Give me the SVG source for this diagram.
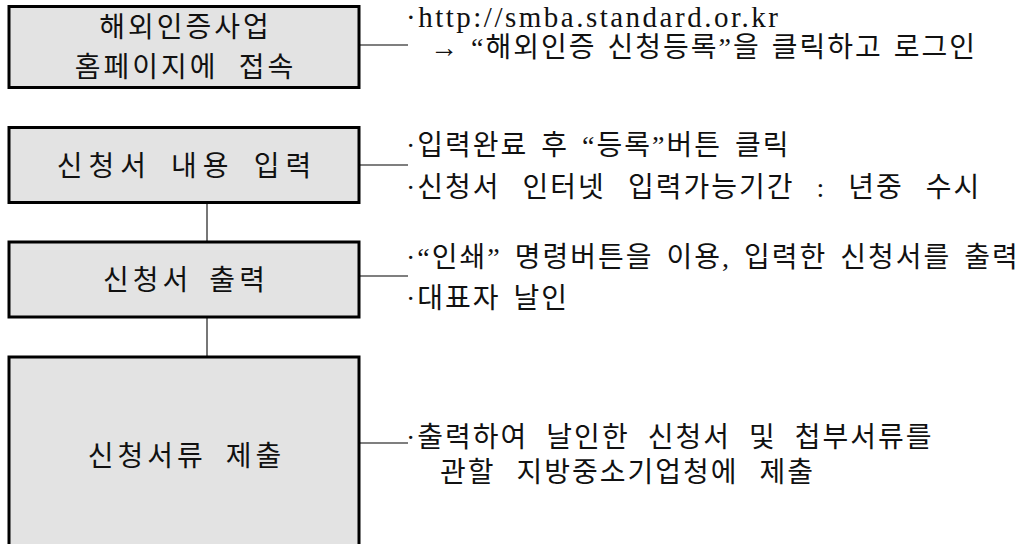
<svg xmlns="http://www.w3.org/2000/svg" width="1032" height="544" viewBox="0 0 1032 544">
<style>
.box{fill:#e3e3e3;stroke:#000;stroke-width:3}
.bt{font-family:"Liberation Serif","Noto Sans CJK KR",serif;font-size:28px;letter-spacing:3px;fill:#111;text-anchor:middle;word-spacing:8px}
.nt{font-family:"Liberation Serif","Noto Sans CJK KR",serif;font-size:28px;letter-spacing:2px;fill:#111;word-spacing:4px}
.lat{font-size:29px;letter-spacing:2.5px}
.c{stroke:#000;stroke-width:1.2;fill:none}
.v{stroke:#555;stroke-width:1.6;fill:none}
</style>
<rect width="1032" height="544" fill="#fff"/>
<g id="connectors">
<line class="c" x1="360" y1="45" x2="408" y2="45"/>
<line class="c" x1="360" y1="165" x2="408" y2="165"/>
<line class="c" x1="360" y1="276" x2="408" y2="276"/>
<line class="c" x1="360" y1="443" x2="408" y2="443"/>
<line class="v" x1="207" y1="203" x2="207" y2="241"/>
<line class="v" x1="207" y1="318" x2="207" y2="356"/>
</g>
<g id="node1">
<rect class="box" x="9" y="6.5" width="350" height="81"/>
<text class="bt" x="185.5" y="37">해외인증사업</text>
<text class="bt" x="185.5" y="77" style="word-spacing:10px">홈페이지에 접속</text>
</g>
<g id="node2">
<rect class="box" x="9" y="127.5" width="350" height="75"/>
<text class="bt" x="187" y="176" style="letter-spacing:6px;word-spacing:6px">신청서 내용 입력</text>
</g>
<g id="node3">
<rect class="box" x="9" y="242" width="350" height="75"/>
<text class="bt" x="186" y="290" style="letter-spacing:4px;word-spacing:6px">신청서 출력</text>
</g>
<g id="node4">
<rect class="box" x="9" y="357" width="350" height="200"/>
<text class="bt" x="186.5" y="466" style="letter-spacing:4px;word-spacing:8px">신청서류 제출</text>
</g>
<g id="notes">
<text class="nt lat" x="406" y="27">·http://smba.standard.or.kr</text>
<text class="nt" x="430" y="57" style="word-spacing:2px">→ “해외인증 신청등록”을 클릭하고 로그인</text>
<text class="nt" x="406" y="155">·입력완료 후 “등록”버튼 클릭</text>
<text class="nt" x="406" y="197" style="word-spacing:13px">·신청서 인터넷 입력가능기간 : 년중 수시</text>
<text class="nt" x="406" y="267">·“인쇄” 명령버튼을 이용, 입력한 신청서를 출력</text>
<text class="nt" x="406" y="308">·대표자 날인</text>
<text class="nt" x="406" y="447" style="word-spacing:9px">·출력하여 날인한 신청서 및 첩부서류를</text>
<text class="nt" x="440" y="482" style="word-spacing:12px">관할 지방중소기업청에 제출</text>
</g>
</svg>
